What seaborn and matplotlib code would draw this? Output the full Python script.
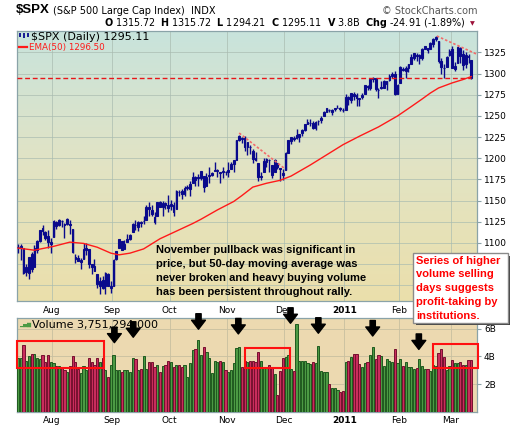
import matplotlib
matplotlib.use("Agg")
import matplotlib.pyplot as plt
from matplotlib.colors import LinearSegmentedColormap, to_hex
from matplotlib.patches import Rectangle
import numpy as np
import pandas as pd
import seaborn as sns

# $SPX daily bars, 14 Jul 2010 .. 10 Mar 2011 (trading-day index 0..166)
opens = [1095.6, 1094.5, 1093.9, 1066.0, 1064.5, 1086.7, 1072.1, 1092.2, 1102.9, 1117.4,
         1112.8, 1108.1, 1098.4, 1107.5, 1125.3, 1121.1, 1125.8, 1122.1, 1122.8, 1122.9,
         1116.9, 1081.5, 1082.2, 1077.2, 1081.2, 1092.1, 1092.4, 1075.6, 1073.4, 1063.2,
         1048.9, 1056.3, 1049.3, 1062.9, 1046.9, 1049.7, 1080.7, 1093.6, 1102.6, 1092.4,
         1101.2, 1104.6, 1113.4, 1121.2, 1119.4, 1123.9, 1126.4, 1126.6, 1142.8, 1139.5,
         1131.1, 1131.7, 1148.6, 1142.3, 1146.8, 1145.0, 1143.5, 1144.9, 1140.7, 1159.8,
         1161.6, 1158.4, 1165.3, 1164.3, 1171.3, 1177.8, 1177.5, 1176.8, 1178.6, 1166.7,
         1179.6, 1180.5, 1184.7, 1184.9, 1183.8, 1184.5, 1183.9, 1185.7, 1187.9, 1193.8,
         1198.3, 1221.2, 1223.2, 1223.6, 1213.1, 1213.0, 1209.1, 1200.4, 1194.8, 1178.3,
         1183.8, 1196.1, 1198.1, 1192.5, 1183.7, 1194.2, 1189.1, 1182.6, 1186.6, 1206.8,
         1219.9, 1223.9, 1227.3, 1225.0, 1230.1, 1233.9, 1242.5, 1241.8, 1241.6, 1236.3,
         1243.6, 1245.8, 1249.4, 1254.9, 1257.5, 1254.7, 1259.1, 1258.8, 1259.4, 1256.8,
         1257.6, 1272.9, 1268.8, 1276.3, 1274.4, 1270.8, 1272.6, 1275.7, 1285.8, 1282.9,
         1293.2, 1294.5, 1280.9, 1283.6, 1283.3, 1288.2, 1291.9, 1297.5, 1299.6, 1276.5,
         1289.1, 1305.9, 1302.8, 1307.0, 1311.9, 1318.8, 1322.5, 1318.1, 1318.7, 1328.7,
         1330.4, 1329.5, 1334.4, 1340.4, 1338.9, 1315.4, 1307.1, 1307.3, 1321.6, 1328.6,
         1305.5, 1312.4, 1330.7, 1322.7, 1311.1, 1319.9, 1315.7]
highs = [1099.1, 1098.7, 1093.9, 1074.7, 1083.9, 1088.9, 1097.5, 1103.7, 1115.2, 1120.9,
         1114.7, 1115.9, 1106.4, 1127.3, 1125.4, 1128.8, 1126.6, 1123.1, 1129.2, 1127.2,
         1116.9, 1086.7, 1086.3, 1082.6, 1100.1, 1099.8, 1092.4, 1075.6, 1081.6, 1063.2,
         1059.4, 1061.5, 1065.2, 1064.4, 1055.1, 1081.3, 1090.1, 1105.1, 1102.6, 1103.3,
         1110.3, 1110.9, 1123.9, 1127.4, 1126.5, 1125.4, 1131.5, 1144.9, 1148.6, 1144.4,
         1136.8, 1148.9, 1149.9, 1150.0, 1148.6, 1157.2, 1150.3, 1148.2, 1162.8, 1162.3,
         1163.9, 1167.7, 1168.7, 1172.6, 1184.4, 1178.9, 1181.2, 1185.5, 1178.6, 1182.9,
         1189.4, 1184.0, 1196.1, 1187.1, 1183.8, 1189.5, 1185.5, 1195.8, 1195.9, 1198.3,
         1221.3, 1227.1, 1224.6, 1226.8, 1218.8, 1215.5, 1210.5, 1207.4, 1194.8, 1183.6,
         1200.3, 1199.9, 1198.9, 1192.5, 1198.6, 1194.2, 1189.1, 1187.4, 1207.6, 1221.9,
         1225.6, 1225.8, 1235.1, 1228.9, 1234.7, 1240.4, 1246.7, 1246.6, 1244.3, 1243.8,
         1245.8, 1250.2, 1255.8, 1259.4, 1258.6, 1258.4, 1259.9, 1262.6, 1261.1, 1259.3,
         1276.2, 1274.1, 1277.6, 1278.2, 1276.8, 1271.5, 1277.3, 1286.9, 1286.7, 1293.2,
         1296.1, 1294.6, 1283.4, 1291.2, 1291.9, 1291.3, 1299.7, 1301.3, 1302.7, 1287.2,
         1308.9, 1307.6, 1308.6, 1311.0, 1322.9, 1324.9, 1324.5, 1322.8, 1330.8, 1332.9,
         1330.4, 1337.6, 1341.5, 1344.1, 1338.9, 1317.9, 1310.9, 1320.6, 1329.4, 1332.1,
         1314.2, 1332.3, 1331.1, 1327.7, 1325.7, 1323.2, 1315.7]
lows = [1087.7, 1080.5, 1063.3, 1061.1, 1056.9, 1065.3, 1072.1, 1087.9, 1101.3, 1109.8,
        1103.1, 1094.3, 1088.0, 1107.5, 1116.8, 1119.5, 1118.8, 1105.8, 1120.9, 1111.0,
        1088.6, 1076.7, 1079.0, 1069.5, 1081.2, 1085.8, 1070.7, 1063.9, 1067.1, 1046.7,
        1039.8, 1045.4, 1039.7, 1048.8, 1040.9, 1049.7, 1080.4, 1093.6, 1091.2, 1092.4,
        1101.2, 1103.9, 1113.4, 1115.6, 1114.6, 1118.9, 1122.4, 1126.6, 1131.9, 1131.6,
        1122.8, 1131.7, 1142.0, 1132.1, 1140.3, 1136.1, 1139.4, 1131.9, 1140.7, 1154.9,
        1151.4, 1155.6, 1162.0, 1155.7, 1171.3, 1166.7, 1167.1, 1174.6, 1159.7, 1166.7,
        1171.2, 1178.6, 1184.7, 1177.7, 1171.3, 1177.1, 1179.8, 1177.7, 1187.9, 1183.6,
        1198.3, 1220.3, 1217.8, 1208.9, 1204.3, 1204.5, 1194.1, 1197.2, 1173.0, 1173.9,
        1183.8, 1189.4, 1184.4, 1176.9, 1183.7, 1186.9, 1173.6, 1174.1, 1186.6, 1206.8,
        1216.6, 1220.7, 1223.3, 1219.5, 1226.6, 1232.6, 1240.3, 1238.2, 1234.0, 1232.9,
        1239.9, 1241.5, 1249.4, 1254.9, 1254.1, 1251.5, 1256.2, 1258.8, 1256.3, 1254.2,
        1257.6, 1262.7, 1265.4, 1268.7, 1261.7, 1262.2, 1269.6, 1275.7, 1280.5, 1281.1,
        1290.2, 1278.9, 1271.3, 1282.1, 1282.5, 1281.1, 1291.0, 1294.4, 1275.1, 1276.0,
        1289.1, 1302.6, 1294.8, 1301.7, 1311.9, 1316.0, 1314.9, 1311.7, 1316.1, 1328.7,
        1324.6, 1329.5, 1331.0, 1338.1, 1312.3, 1299.6, 1294.3, 1307.3, 1320.6, 1306.1,
        1302.6, 1312.4, 1312.6, 1303.9, 1306.9, 1312.3, 1294.2]
closes = [1095.2, 1096.5, 1064.9, 1071.3, 1083.5, 1069.6, 1093.7, 1102.7, 1115.0, 1113.8,
          1106.1, 1101.5, 1101.6, 1125.9, 1120.5, 1127.2, 1125.8, 1121.6, 1127.8, 1121.1,
          1089.5, 1083.6, 1079.3, 1079.4, 1092.5, 1094.2, 1075.6, 1071.7, 1067.4, 1051.9,
          1055.3, 1047.2, 1064.6, 1048.9, 1049.3, 1080.3, 1090.1, 1104.5, 1091.8, 1098.9,
          1104.2, 1109.6, 1121.9, 1121.1, 1125.1, 1124.7, 1125.6, 1142.7, 1139.8, 1134.3,
          1124.8, 1148.7, 1142.2, 1147.7, 1144.7, 1141.2, 1146.2, 1137.0, 1160.8, 1160.0,
          1158.1, 1165.2, 1165.3, 1169.8, 1178.1, 1173.8, 1176.2, 1184.7, 1165.9, 1178.2,
          1180.3, 1183.1, 1185.6, 1185.6, 1182.5, 1183.8, 1183.3, 1184.4, 1193.6, 1198.0,
          1221.1, 1225.9, 1223.3, 1213.4, 1218.7, 1213.5, 1199.2, 1197.8, 1178.3, 1178.6,
          1196.7, 1199.7, 1197.8, 1180.7, 1198.4, 1189.4, 1187.8, 1180.6, 1206.1, 1221.5,
          1224.7, 1223.1, 1223.8, 1228.3, 1233.0, 1240.4, 1240.5, 1241.6, 1235.2, 1242.9,
          1243.9, 1247.1, 1254.6, 1258.8, 1256.8, 1257.5, 1258.5, 1259.8, 1257.9, 1257.6,
          1271.9, 1270.2, 1276.6, 1273.9, 1271.5, 1269.8, 1274.5, 1286.0, 1283.8, 1293.2,
          1295.0, 1281.9, 1280.3, 1283.4, 1290.8, 1291.2, 1296.6, 1299.5, 1276.3, 1286.1,
          1307.6, 1304.0, 1307.1, 1310.9, 1319.1, 1324.6, 1320.9, 1321.9, 1329.2, 1332.3,
          1328.0, 1336.3, 1340.4, 1343.0, 1315.4, 1307.4, 1306.1, 1319.9, 1327.2, 1306.3,
          1308.4, 1331.0, 1321.2, 1310.1, 1321.8, 1320.0, 1295.1]
# volume in billions of shares
volumes = [3.9, 3.9, 4.8, 3.7, 4.0, 4.2, 4.2, 3.85, 3.8, 4.1,
           3.6, 4.1, 3.6, 3.5, 3.3, 3.3, 3.2, 3.0, 2.9, 3.3,
           4.0, 3.6, 3.1, 2.8, 3.3, 3.0, 3.9, 3.6, 3.4, 3.9,
           3.6, 3.9, 3.0, 2.5, 3.4, 4.1, 3.0, 3.0, 2.9, 3.0,
           3.0, 2.9, 3.9, 3.8, 3.0, 3.06, 4.0, 3.1, 3.6, 3.6,
           3.25, 3.4, 2.85, 3.3, 3.4, 3.65, 3.6, 3.25, 3.4, 3.4,
           3.2, 3.4, 2.5, 3.5, 4.45, 4.5, 5.2, 4.1, 4.65, 4.3,
           3.9, 2.8, 3.65, 3.6, 3.7, 3.6, 3.0, 2.9, 3.0, 3.5,
           4.6, 4.65, 3.2, 3.7, 3.6, 3.7, 3.7, 3.6, 4.3, 3.7,
           3.2, 3.2, 3.4, 3.2, 2.7, 1.2, 2.95, 3.9, 3.97, 4.1,
           3.06, 2.94, 6.34, 3.7, 3.65, 3.7, 3.5, 3.45, 3.6, 3.5,
           4.75, 2.94, 2.87, 2.84, 2.0, 1.68, 1.68, 1.56, 1.41, 1.48,
           3.6, 3.7, 3.97, 4.17, 4.17, 3.44, 3.25, 3.49, 3.61, 4.1,
           4.65, 3.78, 4.1, 4.0, 3.3, 3.78, 3.66, 3.6, 4.5, 3.49,
           3.78, 3.3, 3.6, 3.2, 3.2, 3.06, 3.13, 3.78, 3.3, 3.06,
           3.06, 2.96, 3.37, 3.3, 4.26, 4.5, 3.93, 3.0, 3.3, 3.73,
           3.54, 3.54, 3.6, 3.37, 3.4, 3.73, 3.75]

# EMA(50)
ema_days = [0, 6, 13, 19, 24, 29, 34, 37, 41, 46, 52, 58, 64, 67, 73, 79, 82, 86, 91, 96,
            100, 107, 113, 119, 125, 132, 139, 144, 148, 151, 154, 159, 163, 166]
ema_values = [1094, 1091.5, 1096, 1101, 1099.5, 1095, 1088, 1086, 1088, 1093, 1105, 1114,
              1123, 1128, 1139, 1149, 1156, 1166, 1170.5, 1174, 1179, 1192, 1204, 1216,
              1226, 1237, 1250, 1261, 1270, 1277, 1283, 1289, 1293, 1296.5]

month_starts = [13, 35, 56, 77, 98, 120, 140, 159]
month_labels = ["Aug", "Sep", "Oct", "Nov", "Dec", "2011", "Feb", "Mar"]
price_ticks = [1050, 1075, 1100, 1125, 1150, 1175, 1200, 1225, 1250, 1275, 1300, 1325]
volume_ticks = [2, 4, 6]
volume_tick_labels = ["2B", "4B", "6B"]

# annotations drawn by the chartist
support_level = 1295
nov_trend_days, nov_trend_prices = [81, 97.4], [1229.8, 1188.5]
feb_trend_days, feb_trend_prices = [153.4, 168.1], [1344.4, 1322.8]
arrow_days = [35.3, 42.2, 66.1, 80.7, 99.8, 110, 129.9, 146.8]
arrow_tips = [4.99, 5.38, 5.96, 5.62, 6.39, 5.67, 5.47, 4.5]
volume_boxes = [(-0.4, 31.4, 3.17, 5.13), (83.3, 99.6, 3.13, 4.58), (152.1, 168.4, 3.17, 4.89)]
nov_note = ["November pullback was significant in",
            "price, but 50-day moving average was",
            "never broken and heavy buying volume",
            "has been persistent throughout rally."]
vol_note = ["Series of higher", "volume selling", "days suggests",
            "profit-taking by", "institutions."]

W, H = 520, 429
NAVY = "#0a0a8c"
GREEN, GREEN_EDGE = "#4c9a44", "#1f5a1f"
CRIMSON, CRIMSON_EDGE = "#c92d5c", "#76102f"
SPINE = "#8aa3a8"


def fx(px):
    return px / W


def fy(py):
    return 1 - py / H


plt.rcParams["font.family"] = "DejaVu Sans"
fig = plt.figure(figsize=(W / 100, H / 100), dpi=100)
fig.patch.set_facecolor("white")

ax = fig.add_axes([fx(17), fy(301), 460 / W, 270 / H])
axv = fig.add_axes([fx(17), fy(411.7), 460 / W, 93.4 / H])

days = np.arange(len(closes))
xlo, xhi = -0.37, 168.1
ylo, yhi = 1031.5, 1350.3

# price panel background gradient
bg = LinearSegmentedColormap.from_list("bg", ["#ebdfab", "#e2e4c4", "#c8e3dc"])
ax.imshow(np.linspace(0, 1, 256).reshape(-1, 1), cmap=bg, aspect="auto",
          extent=(xlo, xhi, ylo, yhi), origin="lower", zorder=0)

# candlesticks
o, h, l, c = map(np.array, (opens, highs, lows, closes))
ax.vlines(days, l, h, color=NAVY, lw=1.0, zorder=3)
up = c >= o
body_lo = np.minimum(o, c)
body_h = np.maximum(np.abs(c - o), 0.6)
ax.bar(days[up], body_h[up], bottom=body_lo[up], width=0.62, facecolor="none",
       edgecolor=NAVY, linewidth=0.8, zorder=3)
ax.bar(days[~up], body_h[~up], bottom=body_lo[~up], width=0.62, facecolor=NAVY,
       edgecolor=NAVY, linewidth=0.8, zorder=3)

sns.lineplot(x=ema_days, y=ema_values, color="#ff1a1a", linewidth=1.0, ax=ax, zorder=4)

ax.hlines(support_level, xlo, days[-1], colors="#e8161a", linewidth=1.0,
          linestyles=(0, (3.5, 2)), zorder=5)
ax.plot(nov_trend_days, nov_trend_prices, color="#f26a6a", lw=1.2, ls=(0, (1.5, 1.2)), zorder=5)
ax.plot(feb_trend_days, feb_trend_prices, color="#f26a6a", lw=1.2, ls=(0, (1.5, 1.2)), zorder=5)

ax.set_xlim(xlo, xhi)
ax.set_ylim(ylo, yhi)
ax.yaxis.tick_right()
ax.set_yticks(price_ticks)
# 1050/1075 sit behind the callout box in the original
ax.set_yticklabels([str(t) if t >= 1100 else "" for t in price_ticks])
month_pos = [m - 0.5 for m in month_starts]
ax.set_xticks(month_pos)
ax.set_xticklabels([m if m != "Mar" else "" for m in month_labels])
ax.tick_params(axis="y", labelsize=6.5, length=3, color=SPINE, pad=2)
ax.tick_params(axis="x", labelsize=6.5, length=0, pad=3.5)
ax.grid(True, color="#a9bcb0", lw=0.6, alpha=0.8, zorder=1)
ax.set_axisbelow(True)
for s in ax.spines.values():
    s.set_color(SPINE)
    s.set_linewidth(0.9)

# volume panel
direction = ["up"] + ["up" if closes[i] >= closes[i - 1] else "down" for i in range(1, len(closes))]
vol_df = pd.DataFrame({"day": days, "volume": volumes, "direction": direction})
axv.set_facecolor("#ecd9b0")
sns.barplot(data=vol_df, x="day", y="volume", hue="direction", hue_order=["up", "down"],
            palette={"up": GREEN, "down": CRIMSON}, native_scale=True, dodge=False,
            errorbar=None, legend=False, width=0.8, linewidth=0.7, saturation=1, ax=axv)
edge_for = {to_hex(GREEN): GREEN_EDGE, to_hex(CRIMSON): CRIMSON_EDGE}
for p in axv.patches:
    p.set_edgecolor(edge_for.get(to_hex(p.get_facecolor()), "#333333"))
    p.set_zorder(3)
axv.set_xlim(xlo, xhi)
axv.set_ylim(0, 6.75)
axv.set_xlabel("")
axv.set_ylabel("")
axv.yaxis.tick_right()
axv.set_yticks(volume_ticks)
axv.set_yticklabels(volume_tick_labels)
axv.set_xticks(month_pos)
axv.set_xticklabels(month_labels)
axv.tick_params(axis="y", labelsize=6.5, length=3, color=SPINE, pad=2)
axv.tick_params(axis="x", labelsize=6.5, length=0, pad=3)
axv.grid(True, color="#c8bfa0", lw=0.6, zorder=1)
axv.set_axisbelow(True)
for s in axv.spines.values():
    s.set_color(SPINE)
    s.set_linewidth(0.9)
for a in (ax, axv):
    for lbl in a.get_xticklabels():
        if lbl.get_text() == "2011":
            lbl.set_fontweight("bold")

for x0, x1, v0, v1 in volume_boxes:
    axv.add_patch(Rectangle((x0, v0), x1 - x0, v1 - v0, fill=False, edgecolor="#ff1010",
                            linewidth=1.5, zorder=6, clip_on=False))
for d, tip in zip(arrow_days, arrow_tips):
    axv.annotate("", xy=(d, tip), xytext=(d, tip + 1.12), annotation_clip=False, zorder=7,
                 arrowprops=dict(arrowstyle="simple,head_length=0.65,head_width=1.0,tail_width=0.38",
                                 fc="black", ec="black", shrinkA=0, shrinkB=0))

# header
fig.text(fx(16), fy(10), "$SPX", fontsize=9.5, fontweight="bold", family="Liberation Sans",
         va="center")
fig.text(fx(53), fy(11), "(S&P 500 Large Cap Index)  INDX", fontsize=7, va="center")
fig.text(fx(477), fy(11), "\u00a9 StockCharts.com", fontsize=7, va="center", ha="right",
         color="#555555")
fig.text(fx(466), fy(23.5),
         r"$\mathbf{O}$ 1315.72  $\mathbf{H}$ 1315.72  $\mathbf{L}$ 1294.21  "
         r"$\mathbf{C}$ 1295.11  $\mathbf{V}$ 3.8B  $\mathbf{Chg}$ -24.91 (-1.89%)",
         fontsize=6.9, va="center", ha="right")
fig.text(fx(469.5), fy(24), "\u25bc", fontsize=4.5, color="#9c1038", va="center")

# in-panel legends
ax.vlines([0.6, 2.2, 3.8], [1343.5, 1342.5, 1343.5], [1348.5, 1347.5, 1348.5], color=NAVY, lw=1.3, zorder=6)
fig.text(fx(31), fy(36.7), "$SPX (Daily) 1295.11", fontsize=8, va="center")
fig.add_artist(plt.Line2D([fx(19), fx(27)], [fy(47.3), fy(47.3)], color="#ff1a1a", lw=1.6))
fig.text(fx(29), fy(47.3), "EMA(50) 1296.50", fontsize=6.3, va="center", color="#ff1a1a")
fig.text(fx(19), fy(324.5), "\u2582\u2585\u2587", fontsize=3.8, va="center", color=GREEN)
fig.text(fx(31.5), fy(325), "Volume 3,751,294,000", fontsize=8, va="center", zorder=2)

for k, line in enumerate(nov_note):
    fig.text(fx(155.7), fy(250 + 14 * k), line, fontsize=8, fontweight="bold",
             family="Liberation Sans", va="center", color="black")

# callout box
fig.add_artist(Rectangle((fx(415.5), fy(325)), (510 - 415.5) / W, (325 - 255.5) / H,
                         transform=fig.transFigure, facecolor="#404040", edgecolor="none", zorder=10))
fig.add_artist(Rectangle((fx(413.3), fy(322.7)), (508 - 413.3) / W, (322.7 - 253.3) / H,
                         transform=fig.transFigure, facecolor="white", edgecolor="#8a8a8a",
                         linewidth=1.0, zorder=11))
for k, line in enumerate(vol_note):
    fig.text(fx(416.5), fy(260.5 + 13.8 * k), line, fontsize=8, fontweight="bold",
             family="Liberation Sans", va="center", color="#ff0000", zorder=12)

fig.savefig("out.png", dpi=100)
